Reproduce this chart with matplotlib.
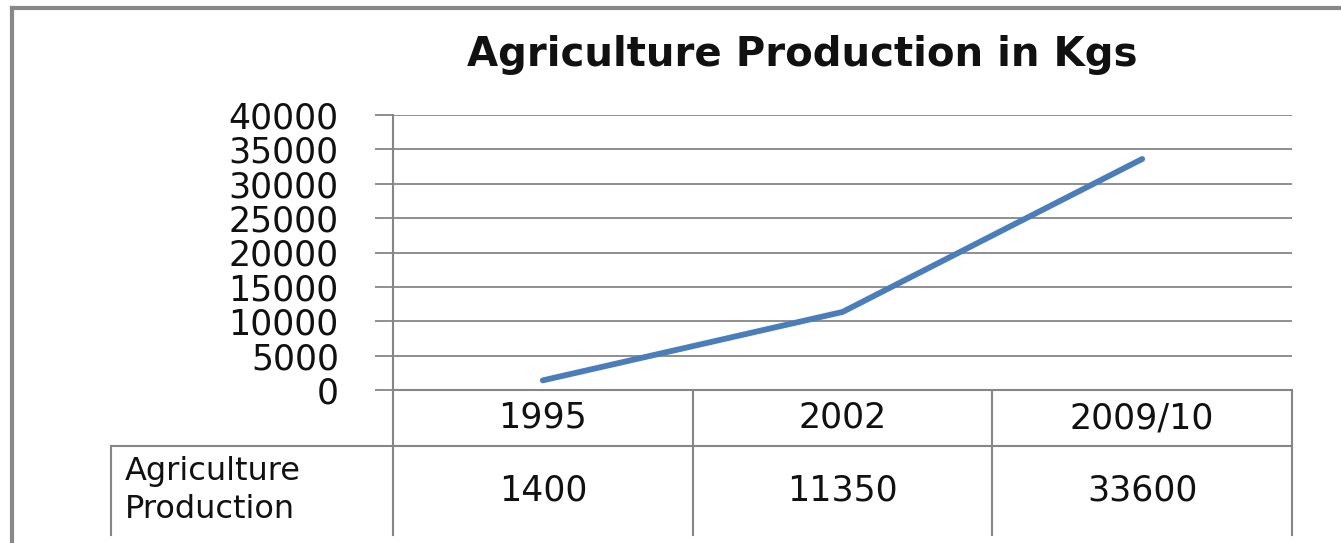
import matplotlib
matplotlib.use("Agg")
import matplotlib.pyplot as plt
from matplotlib.lines import Line2D
import matplotlib.transforms as mtransforms

categories = ["1995", "2002", "2009/10"]
values = [1400, 11350, 33600]
series_name = "Agriculture\nProduction"
title = "Agriculture Production in Kgs"
yticks = list(range(0, 40001, 5000))

W, H = 1341, 543
fig = plt.figure(figsize=(W / 100, H / 100), dpi=100)
fig.patch.set_facecolor("white")

grid_c = "#868686"
txt_c = "#111111"
font = "DejaVu Sans"

ax = fig.add_axes([393 / W, 1 - 390 / H, (1292 - 393) / W, (390 - 115) / H])
x = list(range(len(categories)))
ax.plot(x, values, color="#4a7ebb", lw=4.2, solid_capstyle="round")
ax.set_xlim(-0.5, len(categories) - 0.5)
ax.set_ylim(0, 40000)
ax.set_yticks(yticks)
ax.set_yticklabels([str(v) for v in yticks], fontsize=25, color=txt_c, family=font)
ax.yaxis.grid(True, color=grid_c, lw=1.3)
ax.set_axisbelow(True)
ax.tick_params(axis="y", length=13, width=1.3, color=grid_c, pad=26)
ax.tick_params(axis="x", bottom=False, labelbottom=False)
for s in ["top", "right"]:
    ax.spines[s].set_visible(False)
for s in ["left", "bottom"]:
    ax.spines[s].set_color(grid_c)
    ax.spines[s].set_linewidth(1.5)

fig.text(802 / W, 1 - 55 / H, title, ha="center", va="center", fontsize=29,
         fontweight="bold", color=txt_c, family=font)

# data table below the axis
tr = mtransforms.blended_transform_factory(ax.transData, ax.transAxes)
hdr_bot = -(446 - 390) / 275
tbl_bot = -(535 - 390) / 275
left_x = -0.5 - (393 - 111) / 299.7
n = len(categories)
kw = dict(transform=tr, color=grid_c, lw=1.5, clip_on=False)
ax.add_line(Line2D([-0.5, -0.5], [0, tbl_bot], **kw))
for i in range(n):
    ax.add_line(Line2D([i + 0.5, i + 0.5], [0, tbl_bot], **kw))
ax.add_line(Line2D([left_x, left_x], [hdr_bot, tbl_bot], **kw))
ax.add_line(Line2D([left_x, n - 0.5], [hdr_bot, hdr_bot], **kw))

for i, (c, v) in enumerate(zip(categories, values)):
    ax.text(i, hdr_bot / 2, c, transform=tr, ha="center", va="center",
            fontsize=25, color=txt_c, family=font)
    ax.text(i, (hdr_bot + tbl_bot) / 2, str(v), transform=tr, ha="center",
            va="center", fontsize=25, color=txt_c, family=font)
ax.text(left_x + 0.045, (hdr_bot + tbl_bot) / 2, series_name, transform=tr,
        ha="left", va="center", fontsize=23, color=txt_c, family=font,
        linespacing=1.3)

# outer chart border (top and left visible)
fig.add_artist(Line2D([12 / W, 12 / W], [0, 1 - 8 / H], color="#888888", lw=3,
                      transform=fig.transFigure))
fig.add_artist(Line2D([12 / W, 1], [1 - 8 / H, 1 - 8 / H], color="#888888", lw=3,
                      transform=fig.transFigure))

fig.savefig("out.png", dpi=100, facecolor="white")
